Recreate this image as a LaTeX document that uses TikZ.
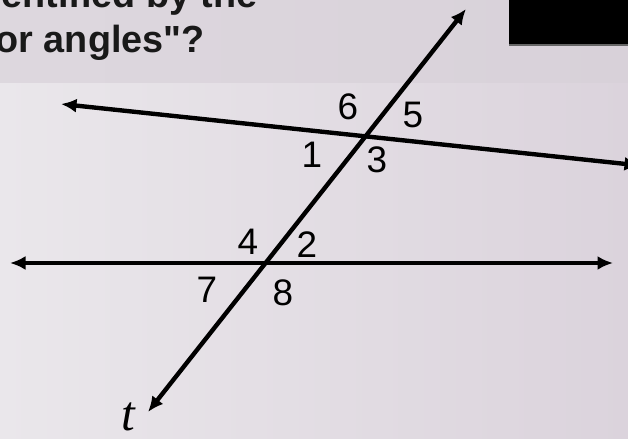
\documentclass[tikz,border=0pt]{standalone}
\usepackage{fontspec}
\setmainfont{Liberation Sans}
\newfontfamily\timesit{Liberation Serif}
\usetikzlibrary{arrows.meta}
\definecolor{bgleft}{HTML}{EAE7EB}
\definecolor{bgright}{HTML}{DBD3DC}
\definecolor{bandtop}{HTML}{D8D1D9}
\tikzset{
	geoline/.style={line width=2.5pt,{Latex[length=3.1mm,width=2.8mm]}-{Latex[length=3.1mm,width=2.8mm]}},
	anglenum/.style={font=\fontsize{21}{25}\selectfont,inner sep=0pt},
	titletext/.style={font=\fontsize{21.5}{25}\selectfont\bfseries,text=black!90,inner sep=0pt}
}

\begin{document}
\begin{tikzpicture}
		\clip (0,0) rectangle (12.56,8.78);
		\shade[left color=bgleft,right color=bgright] (0,0) rectangle (12.56,7.12);
		\shade[left color=bandtop!70!bgleft,right color=bandtop] (0,7.12) rectangle (12.56,8.78);
		\fill[black] (10.18,7.88) rectangle (12.56,8.78);
		\draw[black!60,line width=0.6pt] (10.18,7.88) -- (12.56,7.88);
		
		\node[titletext,anchor=base east] (title1) at (5.16,8.62) {entified by the};
		\node[titletext,anchor=base east] (title2) at (4.10,7.72) {or angles\textquotedbl?};
		
		\coordinate (up1) at (1.22,6.70);
		\coordinate (up2) at (12.80,5.47);
		\coordinate (lo1) at (0.20,3.52);
		\coordinate (lo2) at (12.26,3.52);
		\coordinate (tr1) at (2.96,0.54);
		\coordinate (tr2) at (9.32,8.60);
		\draw[geoline] (up1) -- (up2);
		\draw[geoline] (lo1) -- (lo2);
		\draw[geoline] (tr1) -- (tr2);
		
		\node[anglenum] (n6) at (6.96,6.64) {6};
		\node[anglenum] (n5) at (8.26,6.48) {5};
		\node[anglenum] (n1) at (6.24,5.68) {1};
		\node[anglenum] (n3) at (7.54,5.58) {3};
		\node[anglenum] (n4) at (4.96,3.94) {4};
		\node[anglenum] (n2) at (6.14,3.88) {2};
		\node[anglenum] (n7) at (4.14,2.98) {7};
		\node[anglenum] (n8) at (5.66,2.92) {8};
		\node[font=\fontsize{28}{32}\timesit\itshape,inner sep=0pt] (tname) at (2.56,0.45) {t};
		
	\end{tikzpicture}
\end{document}
